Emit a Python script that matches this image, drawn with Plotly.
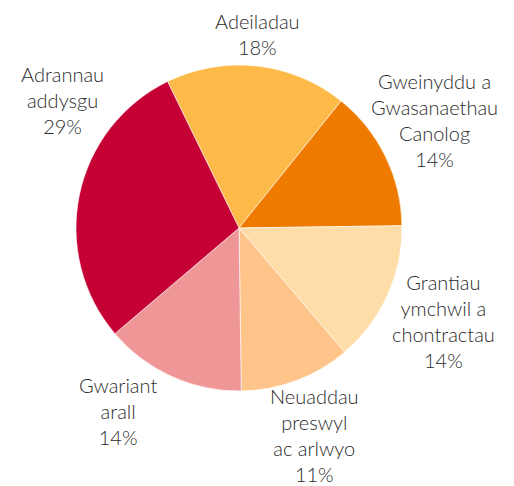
import plotly.graph_objects as go

labels = ["Adeiladau", "Gweinyddu a Gwasanaethau Canolog", "Grantiau ymchwil a chontractau",
          "Neuaddau preswyl ac arlwyo", "Gwariant arall", "Adrannau addysgu"]
label_text = ["Adeiladau", "Gweinyddu a<br>Gwasanaethau<br>Canolog", "Grantiau<br>ymchwil a<br>chontractau",
              "Neuaddau<br>preswyl<br>ac arlwyo", "Gwariant<br>arall", "Adrannau<br>addysgu"]
values = [18, 14, 14, 11, 14, 29]
colors = ["#FDBA48", "#EE7A00", "#FEDDA8", "#FEC489", "#EE9796", "#C40035"]

W, H = 514, 486
cx, cy, r = 239, 228, 163

# label block centres in pixels (layout)
label_pos = [(257, 34), (434, 120), (443, 321), (314, 435), (118, 411), (62, 100)]

fig = go.Figure(go.Pie(
    labels=labels, values=values, sort=False, direction="clockwise", rotation=-26,
    marker=dict(colors=colors, line=dict(color="white", width=0.6)),
    textinfo="none", hoverinfo="label+percent", showlegend=False,
    domain=dict(x=[(cx - r) / W, (cx + r) / W], y=[(H - cy - r) / H, (H - cy + r) / H]),
))

total = sum(values)
for txt, v, (px, py) in zip(label_text, values, label_pos):
    fig.add_annotation(
        x=px / W, y=1 - py / H, xref="paper", yref="paper",
        text=f"{txt}<br>{round(100 * v / total)}%", showarrow=False,
        xanchor="center", yanchor="middle", align="center", borderpad=0,
        font=dict(family="Lato", size=20, color="#2b2b2b", weight=300),
    )

fig.update_layout(
    width=W, height=H, margin=dict(l=0, r=0, t=0, b=0),
    paper_bgcolor="white", plot_bgcolor="white",
)
fig.write_html("out.html", config={"displayModeBar": False},
               post_script="document.body.style.margin='0px';")
